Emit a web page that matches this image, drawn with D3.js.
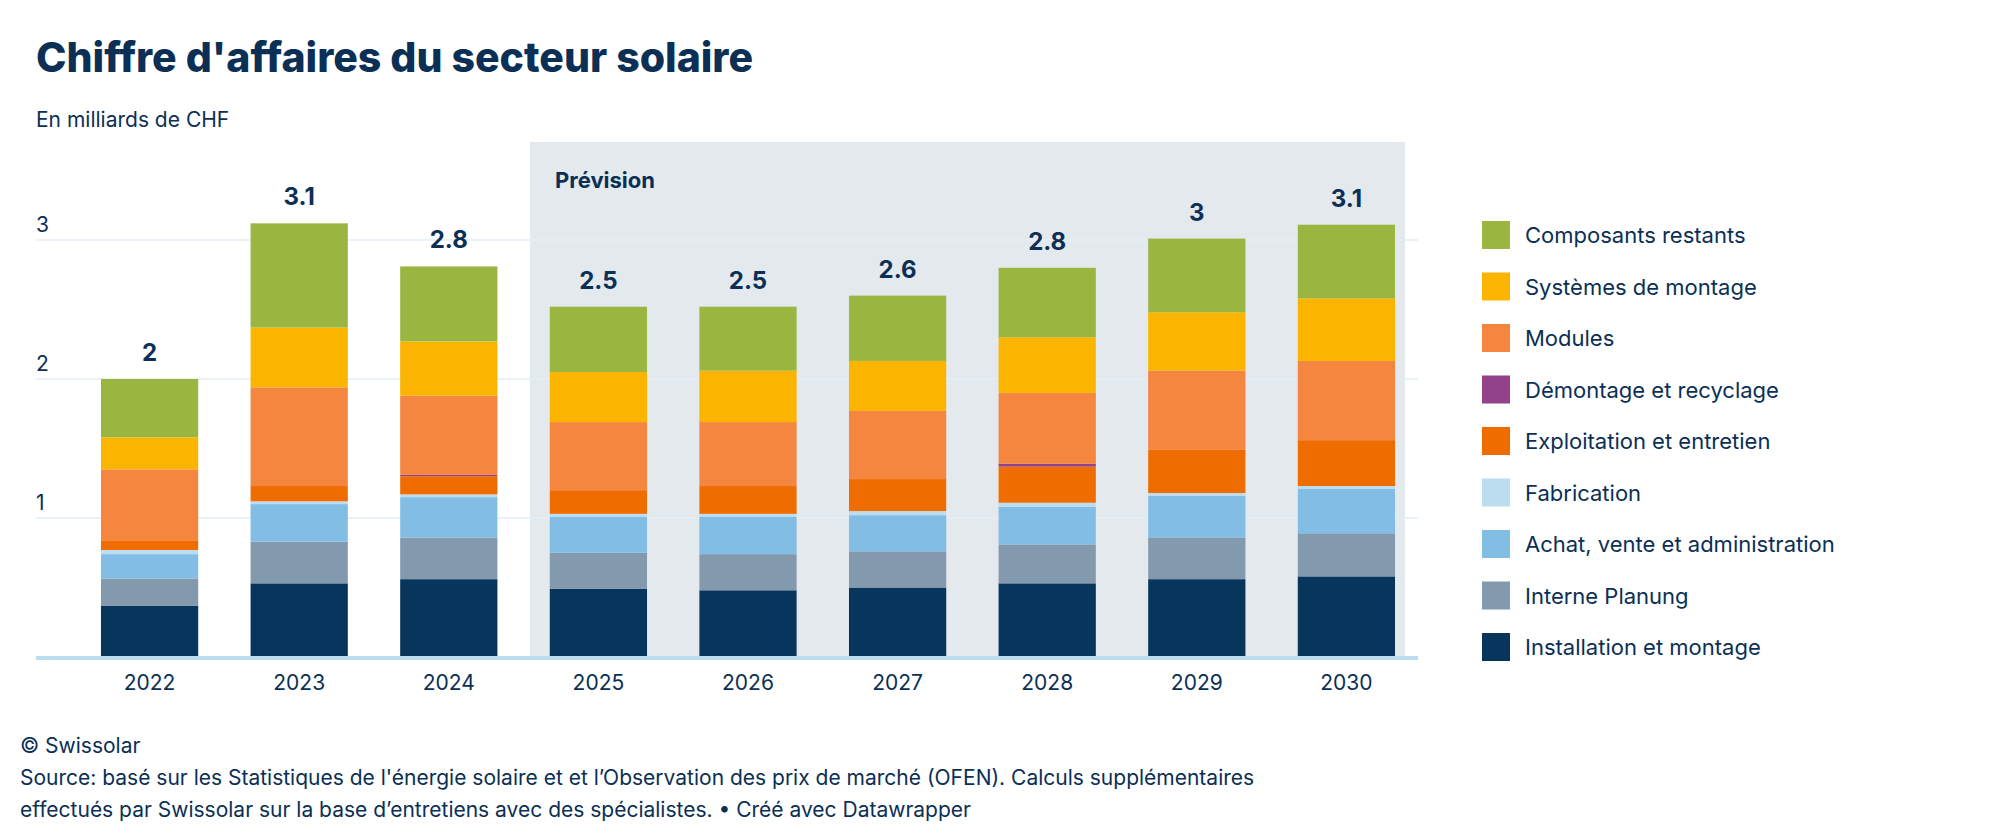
<!DOCTYPE html>
<html><head><meta charset="utf-8">
<script src="https://cdn.jsdelivr.net/npm/d3@7"></script>
<style>body{margin:0;background:#fff;font-family:Inter,"Noto Sans",sans-serif;color:#0b2f55}</style>
</head><body>
<script>
const years = ["2022","2023","2024","2025","2026","2027","2028","2029","2030"];
const totals = ["2","3.1","2.8","2.5","2.5","2.6","2.8","3","3.1"];
// segments bottom to top
const series = [
  {name:"Installation et montage", color:"#08355c", v:[0.37,0.53,0.56,0.49,0.48,0.50,0.53,0.56,0.58]},
  {name:"Interne Planung", color:"#8399ae", v:[0.195,0.30,0.30,0.26,0.26,0.26,0.28,0.30,0.31]},
  {name:"Achat, vente et administration", color:"#82bde6", v:[0.175,0.27,0.29,0.26,0.27,0.26,0.27,0.30,0.32]},
  {name:"Fabrication", color:"#bcdcf0", v:[0.03,0.02,0.02,0.02,0.02,0.03,0.03,0.02,0.02]},
  {name:"Exploitation et entretien", color:"#ef6c00", v:[0.07,0.11,0.13,0.17,0.20,0.23,0.26,0.31,0.33]},
  {name:"Démontage et recyclage", color:"#93418a", v:[0,0,0.01,0,0,0,0.02,0,0]},
  {name:"Modules", color:"#f4863f", v:[0.51,0.71,0.57,0.49,0.46,0.49,0.51,0.57,0.57]},
  {name:"Systèmes de montage", color:"#fbb400", v:[0.23,0.43,0.39,0.36,0.37,0.36,0.40,0.42,0.45]},
  {name:"Composants restants", color:"#9bb640", v:[0.42,0.75,0.54,0.47,0.46,0.47,0.50,0.53,0.53]}
];
const yTicks = [1,2,3];
const W = 2011, H = 840, text = "#0b2f55";
const svg = d3.select("body").append("svg").attr("width", W).attr("height", H);

svg.append("text").attr("x",36).attr("y",72).attr("font-size",41).attr("font-weight",800)
  .attr("fill",text).text("Chiffre d'affaires du secteur solaire");
svg.append("text").attr("x",36).attr("y",127).attr("font-size",21).attr("fill",text).text("En milliards de CHF");

const x = d3.scaleBand().domain(years).range([92,1404]).paddingInner(0.35).paddingOuter(0.06);
const y = d3.scaleLinear().domain([0,3]).range([657,240]);

// forecast shading
svg.append("rect").attr("x",530).attr("y",142).attr("width",875).attr("height",657-142).attr("fill","#e4e9ee");
svg.append("text").attr("x",555).attr("y",188).attr("font-size",22).attr("font-weight",700).attr("fill",text).text("Prévision");

svg.selectAll(".grid").data(yTicks).join("line")
  .attr("x1",36).attr("x2",1418).attr("y1",d=>y(d)).attr("y2",d=>y(d))
  .attr("stroke","#e3eef7").attr("stroke-width",1.5);
svg.selectAll(".yl").data(yTicks).join("text")
  .attr("x",36).attr("y",d=>y(d)-8).attr("font-size",21).attr("fill",text).text(d=>d);

const stacked = d3.stack().keys(d3.range(series.length)).value((d,k)=>series[k].v[d])(d3.range(years.length));
stacked.forEach((layer,k)=>{
  svg.append("g").selectAll("rect").data(layer).join("rect")
    .attr("x",(d,i)=>x(years[i])).attr("width",x.bandwidth())
    .attr("y",d=>y(d[1])).attr("height",d=>y(d[0])-y(d[1]))
    .attr("fill",series[k].color);
});
const topLayer = stacked[stacked.length-1];
svg.selectAll(".tot").data(totals).join("text")
  .attr("x",(d,i)=>x(years[i])+x.bandwidth()/2).attr("y",(d,i)=>y(topLayer[i][1])-18)
  .attr("text-anchor","middle").attr("font-size",24).attr("font-weight",700).attr("fill",text).text(d=>d);

svg.append("line").attr("x1",36).attr("x2",1418).attr("y1",658).attr("y2",658).attr("stroke","#bcdcf0").attr("stroke-width",4);
svg.selectAll(".xl").data(years).join("text")
  .attr("x",d=>x(d)+x.bandwidth()/2).attr("y",690).attr("text-anchor","middle")
  .attr("font-size",21).attr("fill",text).text(d=>d);

const leg = svg.append("g").selectAll("g").data(series.slice().reverse()).join("g")
  .attr("transform",(d,i)=>`translate(1482,${221+i*51.5})`);
leg.append("rect").attr("width",28).attr("height",28).attr("fill",d=>d.color);
leg.append("text").attr("x",43).attr("y",22).attr("font-size",22).attr("fill",text).text(d=>d.name);

const foot = ["© Swissolar",
  "Source: basé sur les Statistiques de l'énergie solaire et et l’Observation des prix de marché (OFEN). Calculs supplémentaires",
  "effectués par Swissolar sur la base d’entretiens avec des spécialistes. • Créé avec Datawrapper"];
svg.selectAll(".ft").data(foot).join("text").attr("x",20).attr("y",(d,i)=>753+i*32)
  .attr("font-size",21).attr("fill",text).text(d=>d);
</script>
</body></html>
